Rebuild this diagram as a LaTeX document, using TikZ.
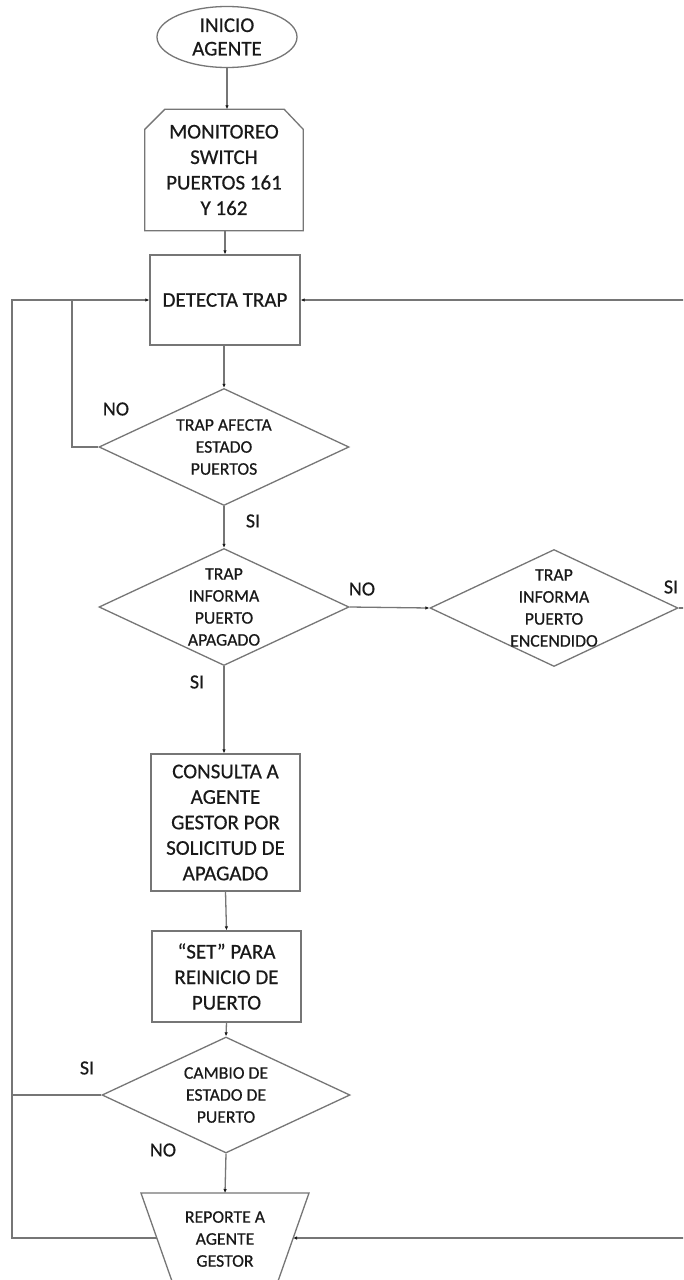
\documentclass[tikz,border=0pt]{standalone}
\usepackage{fontspec}
\setmainfont{Carlito}[FakeBold=0.5]
\usetikzlibrary{shapes.geometric,arrows.meta,calc}

\definecolor{linegray}{RGB}{118,118,118}
\definecolor{inkgray}{RGB}{25,25,25}

\tikzset{
  shapeline/.style={draw=linegray, line width=1.3pt},
  conn/.style={draw=linegray, line width=1.3pt},
  arr/.style={conn, -{Latex[length=4pt,width=3.5pt,color=inkgray]}},
  boxnode/.style={shapeline, rectangle, inner sep=0pt},
  dianode/.style={shapeline, diamond, inner sep=0pt, minimum width=250pt, minimum height=117pt},
  bigtxt/.style={text=inkgray, align=center, font=\fontsize{21}{25.5}\selectfont},
  smalltxt/.style={text=inkgray, align=center, font=\fontsize{17.7}{22}\selectfont},
  lbl/.style={text=inkgray, font=\fontsize{20}{24}\selectfont, inner sep=0pt},
}

\begin{document}
\begin{tikzpicture}[x=1pt, y=-1pt]
  \useasboundingbox (0,0) rectangle (683,1280);
  \fill[white] (0,0) rectangle (683,1280);
  \clip (0,0) rectangle (683,1280);

  % start
  \node[shapeline, ellipse, minimum width=140pt, minimum height=61pt, inner sep=0pt,
        bigtxt, font=\fontsize{21}{23.5}\selectfont] (ini) at (227,37) {INICIO\\AGENTE};

  % monitoring block with chamfered top corners
  \node[bigtxt, minimum width=158pt, minimum height=121pt, inner sep=0pt] (mon) at (224,170)
       {MONITOREO\\SWITCH\\PUERTOS 161\\Y 162};
  \draw[shapeline] ([xshift=20pt]mon.north west) -- ([xshift=-19pt]mon.north east)
        -- ([yshift=-20pt]mon.north east) -- (mon.south east) -- (mon.south west)
        -- ([yshift=-20pt]mon.north west) -- cycle;

  \node[boxnode, bigtxt, minimum width=150pt, minimum height=90pt] (det) at (225,300) {DETECTA TRAP};

  % decisions
  \node[dianode] (d1) at (224,447) {};
  \node[smalltxt] (d1t) at (d1) {TRAP AFECTA\\ESTADO\\PUERTOS};
  \node[dianode] (d2) at (224,607) {};
  \node[smalltxt] (d2t) at (d2) {TRAP\\INFORMA\\PUERTO\\APAGADO};
  \node[dianode, minimum width=248pt] (d3) at (554,608) {};
  \node[smalltxt] (d3t) at (d3) {TRAP\\INFORMA\\PUERTO\\ENCENDIDO};

  \node[boxnode, bigtxt, minimum width=149pt, minimum height=137pt] (cons) at (225.5,822.5)
       {CONSULTA A\\AGENTE\\GESTOR POR\\SOLICITUD DE\\APAGADO};
  \node[boxnode, bigtxt, minimum width=149pt, minimum height=91pt] (set) at (226.5,976.5)
       {“SET” PARA\\REINICIO DE\\PUERTO};

  \node[dianode, minimum width=248pt, minimum height=116pt] (d4) at (226,1095) {};
  \node[smalltxt] (d4t) at (d4) {CAMBIO DE\\ESTADO DE\\PUERTO};

  % report block (inverted trapezoid, running past the lower edge)
  \draw[shapeline] (141,1193) -- (309,1193) -- (277,1284) -- (173,1284) -- cycle;
  \node[smalltxt] (rep) at (225,1239) {REPORTE A\\AGENTE\\GESTOR};
  \coordinate (repT) at (225,1193);
  \coordinate (repL) at (157,1238);
  \coordinate (repR) at (293,1238);

  % routing points of the loops
  \coordinate (lout) at (12,1238);
  \coordinate (lin) at (72,300);
  \coordinate (rout) at (695,608);

  % main flow
  \draw[arr] (ini.south) -- (ini.south |- mon.north);
  \draw[arr] (mon.south -| det.north) -- (det.north);
  \draw[arr] (det.south -| d1.north) -- (d1.north);
  \draw[arr] (d1.south) -- (d2.north);
  \draw[arr] (d2.east) -- (d3.west);
  \draw[arr] (d2.south) -- (cons.north -| d2.south);
  \draw[arr] (cons.south) -- (set.north);
  \draw[arr] (set.south) -- (d4.north);
  \draw[arr] (d4.south) -- (repT);

  % return paths
  \draw[conn] (d1.west) -| (lin);
  \draw[arr] (repL) -- (lout) |- (det.west);
  \draw[conn] (d4.west) -- (d4.west -| lout);
  \draw[arr] (d3.east) -- (rout) |- (det.east);
  \draw[arr] (rout) |- (repR);

  % branch labels
  \node[lbl] (no1) at (116,409) {NO};
  \node[lbl] (si1) at (253,521) {SI};
  \node[lbl] (no2) at (362,589) {NO};
  \node[lbl] (si2) at (197,682) {SI};
  \node[lbl] (si3) at (671,587) {SI};
  \node[lbl] (si4) at (87,1068) {SI};
  \node[lbl] (no4) at (163,1150) {NO};
\end{tikzpicture}
\end{document}
